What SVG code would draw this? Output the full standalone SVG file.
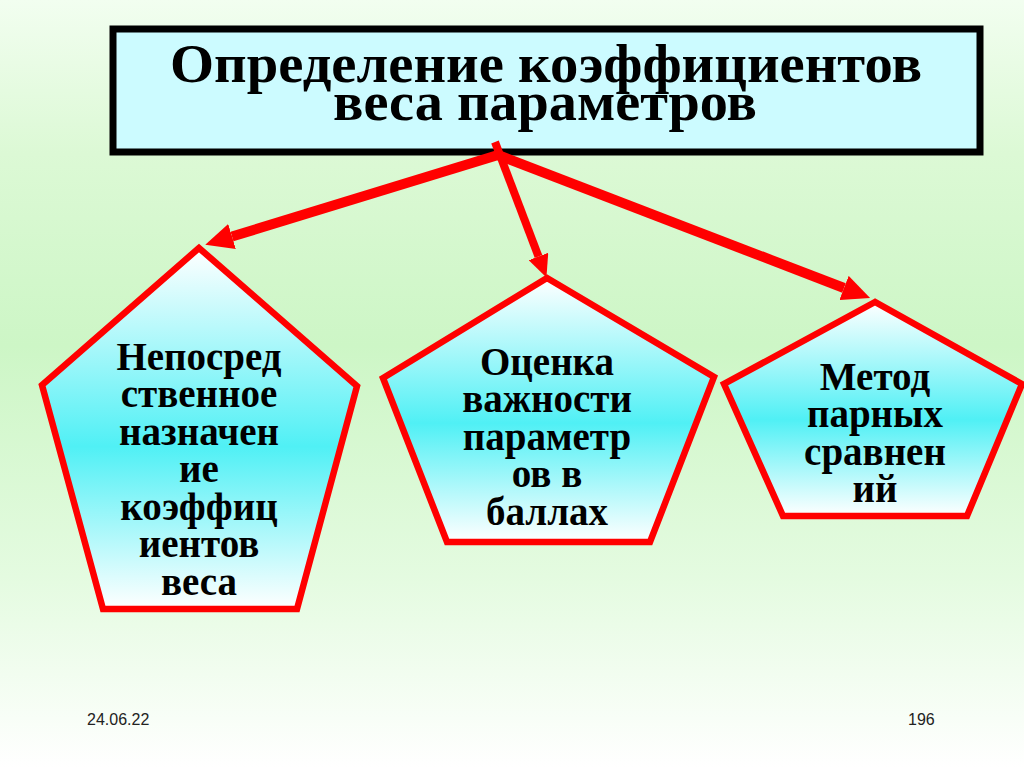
<svg xmlns="http://www.w3.org/2000/svg" width="1024" height="768" viewBox="0 0 1024 768">
  <defs>
    <linearGradient id="bg" x1="0" y1="0" x2="0" y2="1">
      <stop offset="0" stop-color="#f2fef0"/>
      <stop offset="0.2" stop-color="#dcf9d5"/>
      <stop offset="0.45" stop-color="#cdf6c6"/>
      <stop offset="0.75" stop-color="#e4fbe0"/>
      <stop offset="1" stop-color="#ffffff"/>
    </linearGradient>
    <linearGradient id="pent" x1="0" y1="0" x2="0" y2="1">
      <stop offset="0" stop-color="#ffffff"/>
      <stop offset="0.55" stop-color="#50f0f5"/>
      <stop offset="1" stop-color="#ffffff"/>
    </linearGradient>
    <marker id="head" viewBox="0 0 28 26" refX="0" refY="13" markerWidth="2.8" markerHeight="2.6" markerUnits="strokeWidth" orient="auto">
      <path d="M0,0 L28,13 L0,26 Z" fill="#ff0000"/>
    </marker>
    <style>
      .title { font-family: "Liberation Serif", "Times New Roman", serif; font-weight: bold; font-size: 55px; fill: #000; text-anchor: middle; }
      .lbl { font-family: "Liberation Serif", "Times New Roman", serif; font-weight: bold; font-size: 39px; fill: #000; text-anchor: middle; }
      .pent { fill: url(#pent); stroke: #ff0000; stroke-width: 6.5; stroke-linejoin: miter; }
      .conn { stroke: #ff0000; fill: none; marker-end: url(#head); }
      .foot { font-family: "Liberation Sans", Arial, sans-serif; font-size: 16px; fill: #222; }
    </style>
  </defs>

  <rect x="0" y="0" width="1024" height="768" fill="url(#bg)"/>

  <g id="title">
    <rect x="113" y="29" width="867" height="123" fill="#ccfbff" stroke="#000" stroke-width="7"/>
    <text class="title" x="546" y="82" textLength="752" lengthAdjust="spacingAndGlyphs">Определение коэффициентов</text>
    <text class="title" x="545" y="120" textLength="424" lengthAdjust="spacingAndGlyphs">веса параметров</text>
  </g>

  <g id="node-direct">
    <polygon class="pent" points="199,248 42,385 103,609 297,609 357,386"/>
    <text class="lbl" x="199" y="370">Непосред</text>
    <text class="lbl" x="199" y="407">ственное</text>
    <text class="lbl" x="199" y="445">назначен</text>
    <text class="lbl" x="199" y="482">ие</text>
    <text class="lbl" x="199" y="520">коэффиц</text>
    <text class="lbl" x="199" y="557">иентов</text>
    <text class="lbl" x="199" y="595">веса</text>
  </g>

  <g id="node-score">
    <polygon class="pent" points="547,278 383,378 447,542 650,542 714,377"/>
    <text class="lbl" x="547" y="375">Оценка</text>
    <text class="lbl" x="547" y="412">важности</text>
    <text class="lbl" x="547" y="450">параметр</text>
    <text class="lbl" x="547" y="487">ов в</text>
    <text class="lbl" x="547" y="525">баллах</text>
  </g>

  <g id="node-pairs">
    <polygon class="pent" points="875,302 724,384 783,516 967,516 1022,384"/>
    <text class="lbl" x="875" y="390">Метод</text>
    <text class="lbl" x="875" y="427">парных</text>
    <text class="lbl" x="875" y="465">сравнен</text>
    <text class="lbl" x="875" y="502">ий</text>
  </g>

  <g id="connectors">
    <line class="conn" x1="498" y1="155" x2="232" y2="236.5" stroke-width="10"/>
    <line class="conn" x1="495" y1="142" x2="538.5" y2="256.5" stroke-width="8"/>
    <line class="conn" x1="498" y1="155" x2="844" y2="288" stroke-width="10"/>
  </g>

  <g id="footer">
    <text class="foot" x="87" y="725">24.06.22</text>
    <text class="foot" x="908" y="725">196</text>
  </g>
</svg>
